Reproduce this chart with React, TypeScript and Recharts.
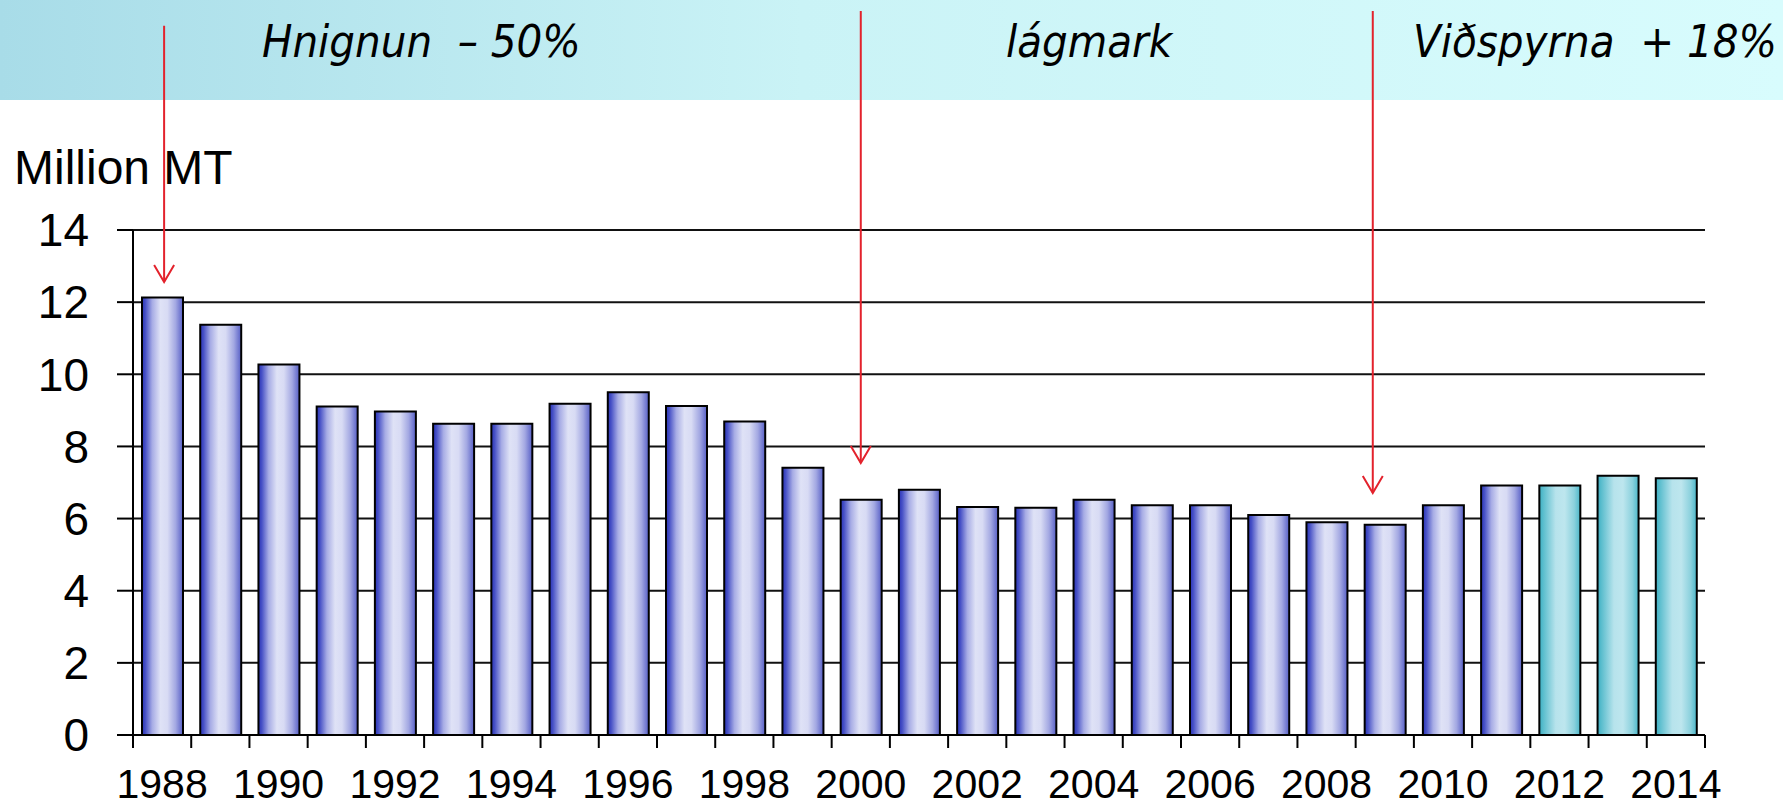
import React from "react"
import { Bar, BarChart, CartesianGrid, Cell, ReferenceLine, XAxis, YAxis } from "recharts"

const years = [
  "1988", "1989", "1990", "1991", "1992", "1993", "1994", "1995", "1996",
  "1997", "1998", "1999", "2000", "2001", "2002", "2003", "2004", "2005",
  "2006", "2007", "2008", "2009", "2010", "2011", "2012", "2013", "2014",
]
const catch_mt = [
  12.13, 11.37, 10.27, 9.11, 8.97, 8.63, 8.63, 9.18, 9.5,
  9.12, 8.69, 7.41, 6.52, 6.8, 6.32, 6.3, 6.52, 6.37,
  6.37, 6.1, 5.9, 5.83, 6.37, 6.92, 6.92, 7.19, 7.12,
]
const forecastYears = ["2012", "2013", "2014"]
const yTicks = [0, 2, 4, 6, 8, 10, 12, 14]

// red arrows from the banner down to the bars (values on the y scale)
const arrows = [
  { year: "1988", from: 19.66, to: 12.56, dx: 2 },
  { year: "2000", from: 20.07, to: 7.54, dx: 0 },
  { year: "2009", from: 20.07, to: 6.71, dx: -12 },
]
const bannerTexts = [
  { text: "Hnignun  \u2013 50%", x: 262 },
  { text: "lágmark", x: 1006 },
  { text: "Viðspyrna  + 18%", x: 1413 },
]

const W = 1783
const H = 808
const TICK = 13
const TICK_MARGIN = 21
const FONT = "'Liberation Sans', Arial, sans-serif"

const chartData = years.map((year, i) => ({ year, value: catch_mt[i] }))

function YearTick(props: any) {
  const { x, y, payload, index } = props
  const off = payload?.offset ?? 29.1
  const axisY = y - TICK - TICK_MARGIN
  const last = index === years.length - 1
  return (
    <g>
      <line x1={x - off} y1={axisY} x2={x - off} y2={axisY + TICK} stroke="#000" strokeWidth={2} />
      {last && <line x1={x + off} y1={axisY} x2={x + off} y2={axisY + TICK} stroke="#000" strokeWidth={2} />}
      {index % 2 === 0 && (
        <text x={x} y={y} dy="0.71em" textAnchor="middle" fontSize={41} fontFamily={FONT} fill="#000">
          {payload.value}
        </text>
      )}
    </g>
  )
}

function Arrow({ x1, y1, y2, dx }: any) {
  const x = x1 + dx
  return (
    <g stroke="#e3222c" strokeWidth={2} fill="none">
      <line x1={x} y1={y1} x2={x} y2={y2} />
      <polyline points={`${x - 10},${y2 - 17} ${x},${y2} ${x + 10},${y2 - 17}`} />
    </g>
  )
}

export default function App() {
  return (
    <div style={{ position: "relative", width: W, height: H, background: "#fff" }}>
      <style>{"body{margin:0}"}</style>
      <svg width={W} height={H} style={{ position: "absolute", left: 0, top: 0 }}>
        <defs>
          <linearGradient id="banner" x1="0" y1="0" x2="1" y2="0">
            <stop offset="0%" stopColor="#a8dce8" />
            <stop offset="45%" stopColor="#caf3f6" />
            <stop offset="100%" stopColor="#d8fcfd" />
          </linearGradient>
        </defs>
        <rect x={0} y={0} width={W} height={100} fill="url(#banner)" />
        {bannerTexts.map((t) => (
          <text
            key={t.text}
            x={t.x}
            y={57}
            fontSize={45}
            fontStyle="italic"
            fontFamily="'DejaVu Sans Condensed', 'Liberation Sans Narrow', 'DejaVu Sans', sans-serif"
            style={{ fontStretch: "condensed", whiteSpace: "pre" }}
            fill="#000"
          >
            {t.text}
          </text>
        ))}
        <text x={14} y={184} fontSize={48} fontFamily={FONT} fill="#000">Million MT</text>
      </svg>
      <div style={{ position: "absolute", left: 0, top: 0 }}>
        <BarChart width={W} height={H} data={chartData} margin={{ top: 230, right: 78, bottom: 0, left: 0 }} barSize={41}>
          <defs>
            <linearGradient id="blueBar" x1="0" y1="0" x2="1" y2="0">
              <stop offset="0%" stopColor="#2a33b6" />
              <stop offset="8%" stopColor="#4650c6" />
              <stop offset="25%" stopColor="#a7ace5" />
              <stop offset="45%" stopColor="#dfe2f6" />
              <stop offset="62%" stopColor="#d8dbf4" />
              <stop offset="82%" stopColor="#a3a8e2" />
              <stop offset="100%" stopColor="#565ec6" />
            </linearGradient>
            <linearGradient id="cyanBar" x1="0" y1="0" x2="1" y2="0">
              <stop offset="0%" stopColor="#3dafc3" />
              <stop offset="10%" stopColor="#5cbece" />
              <stop offset="40%" stopColor="#b7e3ec" />
              <stop offset="62%" stopColor="#bde6ee" />
              <stop offset="85%" stopColor="#8bd1dd" />
              <stop offset="100%" stopColor="#4bb7c9" />
            </linearGradient>
          </defs>
          <CartesianGrid vertical={false} stroke="#111" strokeWidth={2} />
          <XAxis
            dataKey="year"
            interval={0}
            height={73}
            tickLine={false}
            tickSize={TICK}
            tickMargin={TICK_MARGIN}
            axisLine={{ stroke: "#000", strokeWidth: 2 }}
            tick={<YearTick />}
          />
          <YAxis
            domain={[0, 14]}
            ticks={yTicks}
            width={133}
            tickSize={16}
            tickMargin={28}
            axisLine={{ stroke: "#000", strokeWidth: 2 }}
            tickLine={{ stroke: "#000", strokeWidth: 2 }}
            tick={{ fill: "#000", fontSize: 46, fontFamily: FONT }}
          />
          <Bar dataKey="value" stroke="#000" strokeWidth={2} isAnimationActive={false}>
            {chartData.map((d) => (
              <Cell key={d.year} fill={forecastYears.includes(d.year) ? "url(#cyanBar)" : "url(#blueBar)"} />
            ))}
          </Bar>
          {arrows.map((a) => (
            <ReferenceLine
              key={a.year}
              segment={[{ x: a.year, y: a.from }, { x: a.year, y: a.to }]}
              ifOverflow="visible"
              shape={(p: any) => <Arrow {...p} dx={a.dx} />}
            />
          ))}
        </BarChart>
      </div>
    </div>
  )
}
